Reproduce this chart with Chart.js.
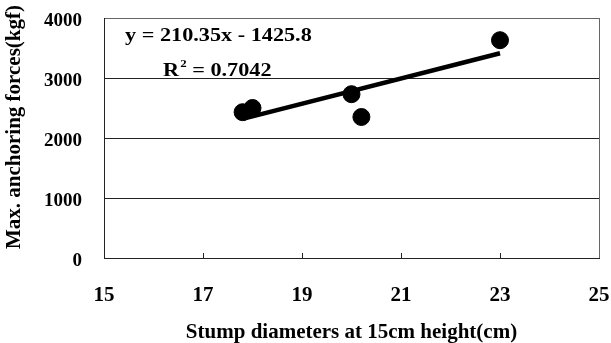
<!DOCTYPE html>
<html lang="en">
<head>
  <meta charset="UTF-8">
  <title>Max. anchoring forces vs stump diameter</title>
  <script src="https://cdn.jsdelivr.net/npm/chart.js"></script>
  <style>
    body {
      margin: 0;
      padding: 0;
      background: #fff;
    }
    .chart-box {
      width: 611px;
      height: 343px;
    }
  </style>
</head>
<body>
  <div class="chart-box">
    <canvas id="anchorChart"></canvas>
  </div>

  <script>
    const diameters = [17.8, 18.0, 20.0, 20.2, 23.0];
    const forces = [2430, 2500, 2730, 2350, 3630];
    // trend line end points
    const trendX = [17.8, 23.0];
    const trendY = [2319, 3412];
    const xTicks = [15, 17, 19, 21, 23, 25];
    const yTicks = [0, 1000, 2000, 3000, 4000];
    const equation = 'y = 210.35x - 1425.8';
    const rSquared = '0.7042';
    const yTitle = 'Max. anchoring forces(kgf)';

    const serif = '"Liberation Serif", "Times New Roman", serif';

    // inward tick marks on the x axis, y title, regression text
    const extras = {
      id: 'extras',
      afterDatasetsDraw(chart) {
        const ctx = chart.ctx;
        const x = chart.scales.x;
        const y = chart.scales.y;
        ctx.save();
        ctx.strokeStyle = '#222';
        ctx.lineWidth = 1;
        xTicks.slice(1, -1).forEach(v => {
          const px = Math.round(x.getPixelForValue(v)) + 0.5;
          ctx.beginPath();
          ctx.moveTo(px, y.bottom);
          ctx.lineTo(px, y.bottom - 5);
          ctx.stroke();
        });
        ctx.restore();

        // y axis title (sits a bit above the axis centre in the original)
        ctx.save();
        ctx.fillStyle = '#000';
        ctx.font = 'bold 21px ' + serif;
        ctx.textAlign = 'center';
        ctx.textBaseline = 'middle';
        ctx.translate(15, 127);
        ctx.rotate(-Math.PI / 2);
        ctx.fillText(yTitle, 0, 0);
        ctx.restore();

        ctx.save();
        ctx.fillStyle = '#000';
        ctx.textBaseline = 'middle';
        ctx.textAlign = 'left';
        ctx.font = 'bold 19px ' + serif;
        ctx.translate(125, 36);
        ctx.scale(1.17, 1);
        ctx.fillText(equation, 0, 0);
        ctx.restore();

        ctx.save();
        ctx.fillStyle = '#000';
        ctx.textBaseline = 'middle';
        ctx.textAlign = 'left';
        ctx.translate(163, 71);
        ctx.scale(1.17, 1);
        ctx.font = 'bold 19px ' + serif;
        ctx.fillText('R', 0, 0);
        let w = ctx.measureText('R').width;
        ctx.font = 'bold 11px ' + serif;
        ctx.fillText('2', w + 1, -7);
        w += ctx.measureText('2').width + 1;
        ctx.font = 'bold 19px ' + serif;
        ctx.fillText(' = ' + rSquared, w, 0);
        ctx.restore();
      }
    };

    const ctx = document.getElementById('anchorChart').getContext('2d');
    new Chart(ctx, {
      type: 'scatter',
      data: {
        datasets: [
          {
            type: 'line',
            label: 'Trend',
            data: trendX.map((v, i) => ({ x: v, y: trendY[i] })),
            borderColor: '#000',
            borderWidth: 4.5,
            pointRadius: 0,
            fill: false
          },
          {
            label: 'Max. anchoring forces',
            data: diameters.map((v, i) => ({ x: v, y: forces[i] })),
            backgroundColor: '#000',
            borderColor: '#000',
            pointRadius: 8.5,
            pointHoverRadius: 8.5
          }
        ]
      },
      options: {
        responsive: true,
        maintainAspectRatio: false,
        animation: false,
        layout: { padding: { top: 18, right: 12, left: 0, bottom: 0 } },
        plugins: {
          legend: { display: false },
          tooltip: { enabled: false }
        },
        scales: {
          x: {
            type: 'linear',
            min: 15,
            max: 25,
            afterBuildTicks: axis => { axis.ticks = xTicks.map(v => ({ value: v })); },
            afterFit: axis => {
              axis.height = 85;
              axis.paddingLeft = 0;
              axis.paddingRight = 0;
            },
            grid: {
              drawTicks: false,
              color: c => (c.tick && c.tick.value === 25) ? '#666' : 'transparent'
            },
            border: { color: '#222', width: 1 },
            ticks: {
              padding: 25,
              color: '#000',
              font: { family: serif, size: 21, weight: 'bold' }
            },
            title: {
              display: true,
              text: 'Stump diameters at 15cm height(cm)',
              color: '#000',
              padding: { top: 0, bottom: 0 },
              font: { family: serif, size: 21, weight: 'bold', lineHeight: 1 }
            }
          },
          y: {
            min: 0,
            max: 4000,
            afterBuildTicks: axis => { axis.ticks = yTicks.map(v => ({ value: v })); },
            afterFit: axis => {
              axis.width = 104;
              axis.paddingTop = 0;
              axis.paddingBottom = 0;
            },
            grid: {
              drawTicks: false,
              color: c => (c.tick && c.tick.value === 4000) ? '#666' : '#222'
            },
            border: { color: '#222', width: 1 },
            ticks: {
              padding: 22,
              labelOffset: 3,
              color: '#000',
              callback: v => String(v),
              font: { family: serif, size: 19, weight: 'bold' }
            },
            title: { display: false }
          }
        }
      },
      plugins: [extras]
    });
  </script>
</body>
</html>
